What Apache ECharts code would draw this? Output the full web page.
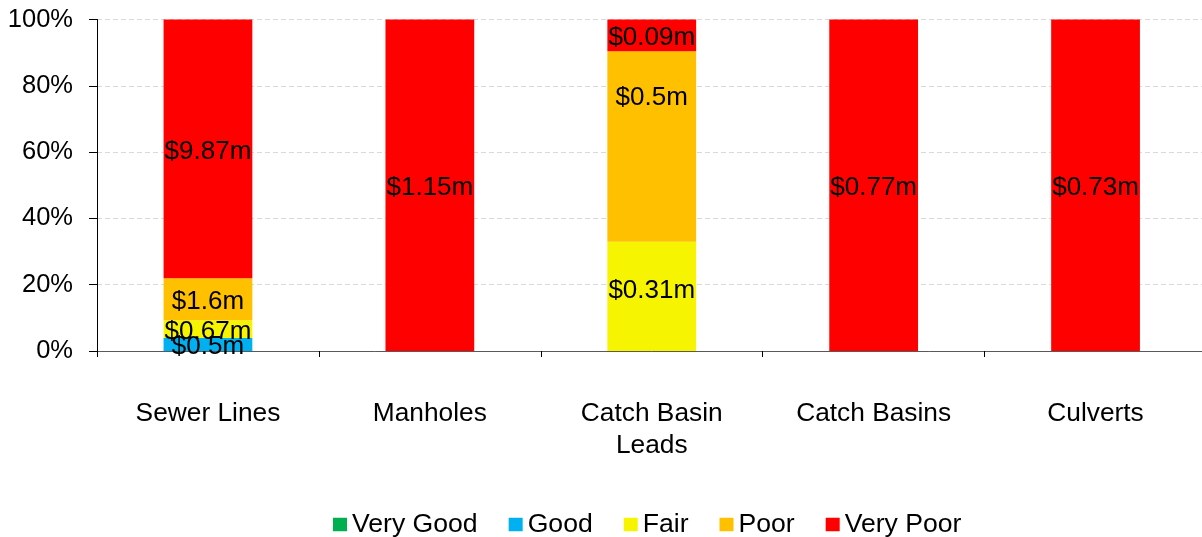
<!DOCTYPE html>
<html>
<head>
<meta charset="utf-8">
<script src="https://cdn.jsdelivr.net/npm/echarts@6/dist/echarts.min.js"></script>
<style>
html,body{margin:0;padding:0;background:#fff;overflow:hidden;width:1202px;height:537px;}
#chart{width:1210px;height:537px;}
</style>
</head>
<body>
<div id="chart"></div>
<script>
const categories = ['Sewer Lines', 'Manholes', 'Catch Basin\nLeads', 'Catch Basins', 'Culverts'];
const seriesNames = ['Very Good', 'Good', 'Fair', 'Poor', 'Very Poor'];
const veryGood = [0, 0, 0, 0, 0];
const good     = [0.5, 0, 0, 0, 0];
const fair     = [0.67, 0, 0.31, 0, 0];
const poor     = [1.6, 0, 0.54, 0, 0];
const veryPoor = [9.87, 1.15, 0.09, 0.77, 0.73];
// label texts as printed on the chart
const veryGoodLabels = ['', '', '', '', ''];
const goodLabels     = ['$0.5m', '', '', '', ''];
const fairLabels     = ['$0.67m', '', '$0.31m', '', ''];
const poorLabels     = ['$1.6m', '', '$0.5m', '', ''];
const veryPoorLabels = ['$9.87m', '$1.15m', '$0.09m', '$0.77m', '$0.73m'];
const yTicks = [0, 20, 40, 60, 80, 100];

const colors = ['#00B050', '#00B0F0', '#F7F400', '#FFC000', '#FF0000'];
const allSeries = [veryGood, good, fair, poor, veryPoor];
const allLabels = [veryGoodLabels, goodLabels, fairLabels, poorLabels, veryPoorLabels];
// hand-moved labels (series index, category index) -> vertical shift in px
const labelShift = {'2,2': -5.5, '3,2': -49};
const totals = categories.map((c, i) => allSeries.reduce((s, arr) => s + arr[i], 0));
const FONT = 'Liberation Sans, Arial, sans-serif';

const chart = echarts.init(document.getElementById('chart'), null, {renderer: 'canvas'});
chart.setOption({
  animation: false,
  textStyle: {fontFamily: FONT, color: '#000'},
  grid: {left: 97, top: 19.5, right: 3.5, bottom: 186, containLabel: false},
  legend: {
    data: seriesNames,
    left: 333, top: 511, padding: 0,
    icon: 'rect', itemWidth: 14, itemHeight: 13.5, itemGap: 31,
    textStyle: {fontSize: 26.6, color: '#000', fontFamily: FONT}
  },
  xAxis: {
    type: 'category',
    data: categories,
    boundaryGap: true,
    axisLine: {lineStyle: {color: '#595959', width: 1}},
    axisTick: {show: true, alignWithLabel: false, length: 6, lineStyle: {color: '#000'}},
    axisLabel: {fontSize: 26.3, color: '#000', fontFamily: FONT, margin: 47, lineHeight: 32, interval: 0},
    splitLine: {show: false}
  },
  yAxis: {
    type: 'value',
    min: yTicks[0], max: yTicks[yTicks.length - 1], interval: 20,
    axisLine: {show: true, lineStyle: {color: '#000', width: 1}},
    axisTick: {show: true, length: 8, lineStyle: {color: '#000'}},
    axisLabel: {fontSize: 25.5, color: '#000', fontFamily: FONT, margin: 24, formatter: '{value}%'},
    splitLine: {show: true, lineStyle: {color: '#d9d9d9', type: [5, 3], width: 1}}
  },
  series: seriesNames.map((name, si) => ({
    name: name,
    type: 'bar',
    stack: 'total',
    barWidth: '40%',
    itemStyle: {color: colors[si]},
    label: {
      show: true,
      position: 'inside',
      color: '#000',
      fontSize: 26,
      fontFamily: FONT,
      offset: [0, 2.5],
      formatter: p => p.data.txt
    },
    data: allSeries[si].map((v, i) => {
      const item = {value: totals[i] ? v / totals[i] * 100 : 0, txt: allLabels[si][i]};
      const key = si + ',' + i;
      if (labelShift[key] !== undefined) item.label = {offset: [0, labelShift[key]]};
      return item;
    })
  }))
});
</script>
</body>
</html>
